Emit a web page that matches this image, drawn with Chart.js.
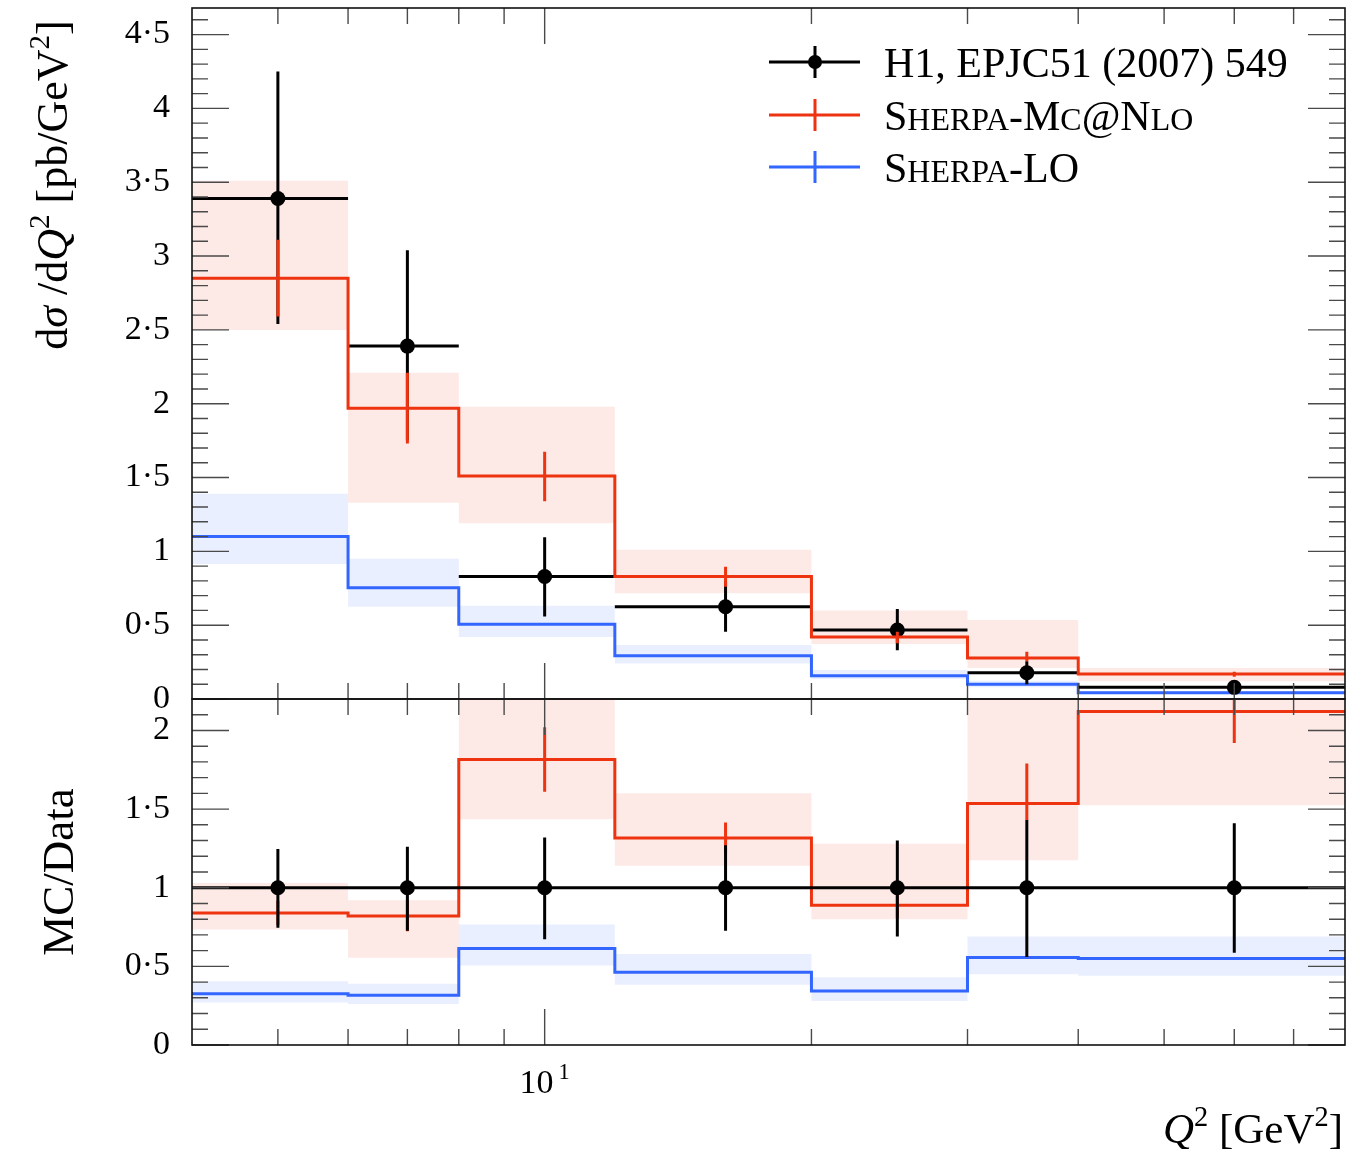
<!DOCTYPE html>
<html>
<head>
<meta charset="utf-8">
<script src="https://cdn.jsdelivr.net/npm/chart.js@4.4.1/dist/chart.umd.min.js"></script>
<style>
  html, body { margin: 0; padding: 0; background: #fff; }
  #wrap { position: relative; width: 1358px; height: 1149px; overflow: hidden; }
  canvas { position: absolute; left: 0; }
  #main { top: 0; }
  #ratio { top: 690px; }
</style>
</head>
<body>
<div id="wrap">
  <canvas id="main" width="1358" height="720"></canvas>
  <canvas id="ratio" width="1358" height="459"></canvas>
</div>
<script>
// Q^2 binning [GeV^2]
const binEdges   = [4, 6, 8, 12, 20, 30, 40, 80];
const binCentres = [5, 7, 10, 16, 25, 35, 60];

// H1 measurement, dsigma/dQ^2 [pb/GeV^2]
const dataVals  = [3.39, 2.39, 0.83, 0.625, 0.467, 0.178, 0.079];
const dataErrHi = [4.25, 3.04, 1.095, 0.795, 0.61, 0.255, 0.111];
const dataErrLo = [2.54, 1.75, 0.558, 0.455, 0.33, 0.10, 0.046];

// Sherpa MC@NLO
const nloVals   = [2.85, 1.97, 1.51, 0.83, 0.42, 0.278, 0.169];
const nloBandHi = [3.51, 2.21, 1.98, 1.01, 0.60, 0.535, 0.21];
const nloBandLo = [2.50, 1.33, 1.19, 0.716, 0.373, 0.21, 0.12];
const nloErrHi  = [3.11, 2.21, 1.675, 0.895, 0.456, 0.32, 0.185];
const nloErrLo  = [2.59, 1.73, 1.34, 0.76, 0.377, 0.255, 0.15];

// Sherpa LO
const loVals   = [1.10, 0.754, 0.506, 0.293, 0.158, 0.10, 0.043];
const loBandHi = [1.39, 0.95, 0.632, 0.366, 0.196, 0.123, 0.055];
const loBandLo = [0.915, 0.625, 0.42, 0.24, 0.135, 0.08, 0.035];

// ratio panel, MC/Data
const ratioData      = [1, 1, 1, 1, 1, 1, 1];
const ratioDataErrHi = [1.246, 1.26, 1.32, 1.27, 1.30, 1.43, 1.41];
const ratioDataErrLo = [0.745, 0.726, 0.673, 0.726, 0.69, 0.56, 0.586];
const ratioNlo       = [0.84, 0.82, 1.816, 1.316, 0.889, 1.535, 2.12];
const ratioNloBandHi = [1.03, 0.92, 2.4, 1.60, 1.28, 3.0, 2.6];
const ratioNloBandLo = [0.735, 0.555, 1.435, 1.14, 0.80, 1.175, 1.524];
const ratioNloErrHi  = [0.917, 0.923, 2.02, 1.414, 0.976, 1.79, 2.34];
const ratioNloErrLo  = [0.764, 0.723, 1.61, 1.216, 0.807, 1.43, 1.92];
const ratioLo        = [0.326, 0.317, 0.614, 0.463, 0.343, 0.557, 0.55];
const ratioLoBandHi  = [0.406, 0.39, 0.766, 0.578, 0.43, 0.69, 0.69];
const ratioLoBandLo  = [0.27, 0.26, 0.506, 0.383, 0.28, 0.45, 0.44];

// tick labels
const yTicksMain  = [0, 0.5, 1, 1.5, 2, 2.5, 3, 3.5, 4, 4.5];
const yTicksRatio = [0, 0.5, 1, 1.5, 2];
const xMajorTicks = [10];
const xMinorTicks = [5, 6, 7, 8, 9, 20, 30, 40, 50, 60, 70];

const RED = '#ee3311';
const BLUE = '#3366ff';
const RED_BAND = 'rgba(238,51,17,0.1)';
const BLUE_BAND = 'rgba(51,102,255,0.1)';
const SERIF = '"Liberation Serif", "DejaVu Serif", serif';

// histogram outline: one flat step per bin, joined at the edges
function steps(vals) {
  const pts = [];
  vals.forEach((v, i) => {
    pts.push({x: binEdges[i], y: v}, {x: binEdges[i + 1], y: v});
  });
  return pts;
}

// separate horizontal bars, one per bin
function binBars(vals) {
  const pts = [];
  vals.forEach((v, i) => {
    pts.push({x: binEdges[i], y: v}, {x: binEdges[i + 1], y: v}, {x: binEdges[i + 1], y: null});
  });
  return pts;
}

// vertical error bars at the bin centres
function errBars(lo, hi) {
  const pts = [];
  lo.forEach((v, i) => {
    pts.push({x: binCentres[i], y: v}, {x: binCentres[i], y: hi[i]}, {x: binCentres[i], y: null});
  });
  return pts;
}

function lineSet(data, color, order, width) {
  return {
    data, order,
    borderColor: color, borderWidth: width || 3,
    pointRadius: 0, pointHoverRadius: 0,
    fill: false, tension: 0, spanGaps: false,
    borderJoinStyle: 'miter', borderCapStyle: 'butt'
  };
}

// pair of invisible step lines with the space between them filled
function bandSets(lo, hi, color, order) {
  const none = 'rgba(0,0,0,0)';
  return [
    {data: steps(lo), order, borderColor: none, borderWidth: 0, pointRadius: 0, fill: false, tension: 0},
    {data: steps(hi), order, borderColor: none, borderWidth: 0, pointRadius: 0, fill: '-1', backgroundColor: color, tension: 0}
  ];
}

function markerSet(vals, order) {
  return {
    data: vals.map((v, i) => ({x: binCentres[i], y: v})), order,
    showLine: false, pointRadius: 7.5, pointHoverRadius: 7.5,
    pointBackgroundColor: '#000', pointBorderWidth: 0, borderColor: '#000'
  };
}

// text made of runs: plain, italic, superscript or small caps
function runFont(r, size) {
  const s = r.sup ? size * 0.66 : r.sc ? size * 0.76 : size;
  return (r.it ? 'italic ' : '') + s + 'px ' + SERIF;
}
function richWidth(ctx, runs, size) {
  return runs.reduce((w, r) => {
    ctx.font = runFont(r, size);
    return w + ctx.measureText(r.t).width + (r.gap || 0);
  }, 0);
}
function drawRich(ctx, runs, x, y, size, align) {
  let cx = x;
  const w = richWidth(ctx, runs, size);
  if (align === 'center') cx -= w / 2;
  if (align === 'right') cx -= w;
  ctx.textAlign = 'left';
  ctx.textBaseline = 'alphabetic';
  runs.forEach(r => {
    ctx.font = runFont(r, size);
    ctx.fillText(r.t, cx, r.sup ? y - size * 0.4 : y);
    cx += ctx.measureText(r.t).width + (r.gap || 0);
  });
}

// frame with inward major/minor ticks on all four sides
function framePlugin(yMajor, yMax) {
  return {
    id: 'frame',
    afterDatasetsDraw(chart) {
      const {ctx, chartArea: a, scales: {x, y}} = chart;
      ctx.save();
      ctx.strokeStyle = '#4a4a4a';
      ctx.lineWidth = 1.4;
      ctx.beginPath();
      const yTick = (v, len) => {
        const p = y.getPixelForValue(v);
        ctx.moveTo(a.left, p); ctx.lineTo(a.left + len, p);
        ctx.moveTo(a.right, p); ctx.lineTo(a.right - len, p);
      };
      const xTick = (v, len) => {
        const p = x.getPixelForValue(v);
        ctx.moveTo(p, a.top); ctx.lineTo(p, a.top + len);
        ctx.moveTo(p, a.bottom); ctx.lineTo(p, a.bottom - len);
      };
      yMajor.forEach(v => yTick(v, 37));
      for (let k = 1; k / 10 < yMax; k++) {
        if (k % 5) yTick(k / 10, 16);
      }
      xMajorTicks.forEach(v => xTick(v, 36));
      xMinorTicks.forEach(v => xTick(v, 16));
      ctx.stroke();
      ctx.strokeStyle = '#111';
      ctx.lineWidth = 1.6;
      ctx.strokeRect(a.left, a.top, a.right - a.left, a.bottom - a.top);
      ctx.restore();
    }
  };
}

function yScale(min, max, ticks) {
  return {
    type: 'linear', min, max, bounds: 'data',
    afterBuildTicks: s => { s.ticks = ticks.map(v => ({value: v})); },
    afterFit: s => {
      // fixed axis width, no extra room for the end labels
      s.width = 192;
      s.paddingTop = 0;
      s.paddingBottom = 0;
    },
    ticks: {
      autoSkip: false, padding: 22, color: '#000',
      font: {family: SERIF, size: 34},
      callback: v => String(v).replace('.', '\u00b7')
    },
    grid: {display: false, drawTicks: false},
    border: {display: false}
  };
}

const xScale = {type: 'logarithmic', min: 4, max: 80, bounds: 'data', display: false};

const mainLabels = {
  id: 'mainLabels',
  afterDraw(chart) {
    const ctx = chart.ctx;
    ctx.save();
    ctx.fillStyle = '#000';
    // y-axis title
    ctx.translate(67, 185);
    ctx.rotate(-Math.PI / 2);
    drawRich(ctx, [{t: 'd'}, {t: '\u03c3', it: 1}, {t: ' /d'}, {t: 'Q', it: 1}, {t: '2', sup: 1},
                   {t: ' [pb/GeV'}, {t: '2', sup: 1}, {t: ']'}], 0, 0, 44, 'center');
    ctx.restore();

    // legend
    const rows = [
      {y: 62, color: '#000', dot: true, runs: [{t: 'H1, EPJC51 (2007) 549'}]},
      {y: 115, color: RED, runs: [{t: 'S'}, {t: 'HERPA', sc: 1}, {t: '-M'}, {t: 'C', sc: 1}, {t: '@N'}, {t: 'LO', sc: 1}]},
      {y: 167, color: BLUE, runs: [{t: 'S'}, {t: 'HERPA', sc: 1}, {t: '-LO'}]}
    ];
    ctx.save();
    rows.forEach(r => {
      ctx.strokeStyle = r.color;
      ctx.lineWidth = 3;
      ctx.beginPath();
      ctx.moveTo(769, r.y); ctx.lineTo(860, r.y);
      ctx.moveTo(815, r.y - 16); ctx.lineTo(815, r.y + 16);
      ctx.stroke();
      if (r.dot) {
        ctx.fillStyle = '#000';
        ctx.beginPath(); ctx.arc(815, r.y, 7, 0, Math.PI * 2); ctx.fill();
      }
      ctx.fillStyle = '#000';
      drawRich(ctx, r.runs, 884, r.y + 15, 42, 'left');
    });
    ctx.restore();
  }
};

const ratioLabels = {
  id: 'ratioLabels',
  afterDraw(chart) {
    const ctx = chart.ctx;
    const x = chart.scales.x;
    ctx.save();
    ctx.fillStyle = '#000';
    // x tick label at 10
    xMajorTicks.forEach(v => {
      drawRich(ctx, [{t: '10', gap: 5}, {t: '1', sup: 1}], x.getPixelForValue(v), 403, 34, 'center');
    });
    // x-axis title
    drawRich(ctx, [{t: 'Q', it: 1}, {t: '2', sup: 1}, {t: ' [GeV'}, {t: '2', sup: 1}, {t: ']'}],
             1343, 453, 43, 'right');
    // ratio title
    ctx.translate(73, 182);
    ctx.rotate(-Math.PI / 2);
    drawRich(ctx, [{t: 'MC/Data'}], 0, 0, 45, 'center');
    ctx.restore();
  }
};

const common = {
  responsive: false, animation: false, events: [], devicePixelRatio: 1,
  plugins: {legend: {display: false}, tooltip: {enabled: false}}
};

new Chart(document.getElementById('main'), {
  type: 'line',
  data: {
    datasets: [
      ...bandSets(nloBandLo, nloBandHi, RED_BAND, 30),
      ...bandSets(loBandLo, loBandHi, BLUE_BAND, 30),
      lineSet(steps(loVals), BLUE, 6),
      lineSet(binBars(dataVals), '#000', 4),
      lineSet(errBars(dataErrLo, dataErrHi), '#000', 4),
      markerSet(dataVals, 3),
      lineSet(steps(nloVals), RED, 2),
      lineSet(errBars(nloErrLo, nloErrHi), RED, 1)
    ]
  },
  options: {
    ...common,
    layout: {padding: {top: 8, right: 13, bottom: 21, left: 0}},
    scales: {x: xScale, y: yScale(0, 4.68, yTicksMain)}
  },
  plugins: [framePlugin(yTicksMain, 4.68), mainLabels]
});

new Chart(document.getElementById('ratio'), {
  type: 'line',
  data: {
    datasets: [
      ...bandSets(ratioNloBandLo, ratioNloBandHi, RED_BAND, 30),
      ...bandSets(ratioLoBandLo, ratioLoBandHi, BLUE_BAND, 30),
      lineSet(steps(ratioNlo), RED, 6),
      lineSet(errBars(ratioNloErrLo, ratioNloErrHi), RED, 5),
      lineSet(steps(ratioLo), BLUE, 4),
      lineSet(binBars(ratioData), '#000', 3),
      lineSet(errBars(ratioDataErrLo, ratioDataErrHi), '#000', 2),
      markerSet(ratioData, 1)
    ]
  },
  options: {
    ...common,
    layout: {padding: {top: 9, right: 13, bottom: 104, left: 0}},
    scales: {x: xScale, y: yScale(0, 2.2, yTicksRatio)}
  },
  plugins: [framePlugin(yTicksRatio, 2.2), ratioLabels]
});
</script>
</body>
</html>
